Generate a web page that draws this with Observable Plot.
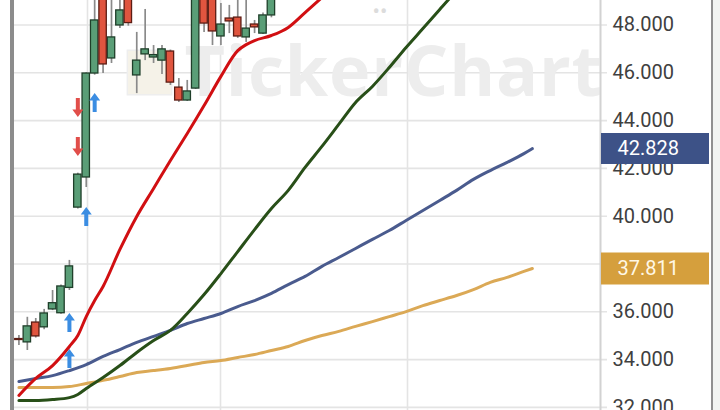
<!DOCTYPE html>
<html><head><meta charset="utf-8">
<script src="https://cdn.jsdelivr.net/npm/d3@7"></script>
<script src="https://cdn.jsdelivr.net/npm/@observablehq/plot@0.6"></script>
<style>
html,body{margin:0;padding:0;background:#fff;}
#chart{width:720px;height:410px;overflow:hidden;}
</style></head><body><div id="chart"></div>
<script>
// ---- candles (bar index 1..31, visible part) ----
const opens  = [34.86,34.72,35.55,35.35,36.10,35.94,37.00,40.36,41.62,45.97,49.60,46.60,47.98,49.30,45.89,46.77,46.64,46.51,46.89,45.38,44.84,45.34,49.50,49.20,47.52,48.27,48.31,47.48,48.02,47.64,48.40];
const highs  = [35.01,35.77,35.72,36.10,36.89,37.12,38.15,41.80,46.00,49.30,49.80,49.50,49.30,49.40,47.69,48.65,47.14,47.14,46.95,45.76,45.68,49.80,49.80,49.40,48.90,48.82,49.10,49.20,48.19,48.50,49.60];
const lows   = [34.59,34.38,34.90,35.25,36.05,35.90,36.89,40.30,41.20,45.90,45.97,46.39,47.85,47.95,45.13,46.51,46.39,45.93,45.47,44.76,44.80,45.30,47.69,47.14,47.14,47.64,47.44,47.27,47.64,47.60,48.30];
const closes = [34.82,35.39,34.97,35.93,36.36,37.06,37.90,41.74,45.97,48.19,46.35,47.48,48.61,48.08,46.51,46.98,46.74,46.98,45.59,44.84,45.22,49.50,48.06,47.73,48.02,48.15,47.52,47.85,47.90,48.40,49.50];

// ---- moving averages ----
const redIdx = [1,3,5,7,8,9,10,11,13,15,17,19,21,23,25,27,28,29,31,33,35,37,39];
const redVal = [32.50,33.21,33.75,34.55,35.01,35.80,36.47,37.06,38.61,39.99,41.16,42.33,43.46,44.63,45.85,46.93,47.18,47.35,47.56,47.90,48.52,49.15,49.80];
const greenIdx = [1,3,5,7,8,9,11,13,15,17,19,21,23,25,27,29,31,33,35,37,39,41,43,45,47,49,51,53,55];
const greenVal = [32.29,32.29,32.33,32.41,32.54,32.79,33.25,33.75,34.30,34.80,35.22,35.93,36.72,37.60,38.52,39.44,40.32,41.08,42.04,42.92,43.84,44.76,45.43,46.22,47.06,47.85,48.65,49.44,50.20];
const slowIdx = [1,3,5,7,9,11,13,15,17,19,21,23,25,27,29,31,33,35,37,39,41,43,45,47,49,51,53,55,57,59,61,62];
const blueVal = [33.08,33.21,33.33,33.54,33.79,34.13,34.42,34.72,34.97,35.22,35.51,35.72,35.93,36.22,36.47,36.77,37.14,37.48,37.90,38.27,38.65,39.03,39.40,39.82,40.24,40.66,41.08,41.54,41.91,42.25,42.62,42.828];
const goldVal = [32.83,32.83,32.83,32.87,33.00,33.13,33.29,33.46,33.54,33.63,33.75,33.88,33.96,34.09,34.21,34.38,34.55,34.80,35.01,35.18,35.39,35.59,35.80,36.01,36.26,36.47,36.68,36.93,37.23,37.44,37.69,37.811];

// ---- signal arrows ----
const arrowIdx = [7,7,9,10,8,8];
const arrowVal = [35.55,34.05,39.99,44.76,44.55,42.92];
const arrowDir = ["up","up","up","up","down","down"];

// ---- axis ----
const yTicks = [32,34,36,38,40,42,44,46,48];
const monthGrid = [9.15,24.95,47.17];
const lastBlue = 42.828, lastGold = 37.811;

const candles = opens.map((o,k)=>({i:k+1, open:o, high:highs[k], low:lows[k], close:closes[k]}));
const up = candles.filter(d=>d.close>=d.open), dn = candles.filter(d=>d.close<d.open);
const mk = (idx, vals) => idx.map((i,k)=>({i, v: vals[k]}));
const arrows = arrowIdx.map((i,k)=>({i, v: arrowVal[k], dir: arrowDir[k]}));

const arrowUp = {draw(ctx){ctx.moveTo(0,-9.5);ctx.lineTo(5.5,-2);ctx.lineTo(2,-2);ctx.lineTo(2,9.5);ctx.lineTo(-2,9.5);ctx.lineTo(-2,-2);ctx.lineTo(-5.5,-2);ctx.closePath();}};
const arrowDown = {draw(ctx){ctx.moveTo(0,9.5);ctx.lineTo(5.5,2);ctx.lineTo(2,2);ctx.lineTo(2,-9.5);ctx.lineTo(-2,-9.5);ctx.lineTo(-2,2);ctx.lineTo(-5.5,2);ctx.closePath();}};
const fmt = d3.format(".3f");

const chart = Plot.plot({
  width: 720, height: 410,
  marginLeft: 10, marginRight: 120, marginTop: 0, marginBottom: 0,
  x: {domain: [0, 70.1], axis: null},
  y: {domain: [31.87, 49.025], axis: null},
  style: {fontFamily: "Roboto, sans-serif", background: "#fff", overflow: "visible"},
  marks: [
    Plot.ruleY(yTicks, {stroke: "#e4e4e4", strokeWidth: 1.6, insetRight: -7}),
    Plot.ruleX(monthGrid, {stroke: "#e4e4e4", strokeWidth: 1.6}),
    Plot.dot([0], {frameAnchor: "top-left", dx: 139, dy: 72, symbol: "square", r: 25, fill: "#f5f2e8", stroke: "#eeeeee"}),
    Plot.text(["TickerChart"], {frameAnchor: "top-left", dx: 174, dy: 73, textAnchor: "start", lineAnchor: "middle", fontSize: 70, fontWeight: "bold", fill: "#ededed", fontFamily: "Open Sans, sans-serif"}),
    Plot.text(["••"], {frameAnchor: "top-left", dx: 362, dy: 11, textAnchor: "start", lineAnchor: "middle", fontSize: 22, fill: "#dcdcdc"}),
    Plot.ruleX(candles, {x: "i", y1: "low", y2: "high", stroke: "#8a8a8a", strokeWidth: 1.7, clip: true}),
    Plot.rect(up, {x1: d=>d.i-0.44, x2: d=>d.i+0.44, y1: "open", y2: "close", fill: "#5a9e77", stroke: "#1f3f2a", strokeWidth: 1.3, clip: true}),
    Plot.rect(dn, {x1: d=>d.i-0.44, x2: d=>d.i+0.44, y1: "open", y2: "close", fill: "#e0553f", stroke: "#5c1d14", strokeWidth: 1.3, clip: true}),
    Plot.line(mk(slowIdx, goldVal), {x: "i", y: "v", stroke: "#dba956", strokeWidth: 3, curve: "monotone-x", clip: true}),
    Plot.line(mk(slowIdx, blueVal), {x: "i", y: "v", stroke: "#4a5b8e", strokeWidth: 3, curve: "monotone-x", clip: true}),
    Plot.line(mk(greenIdx, greenVal), {x: "i", y: "v", stroke: "#284f18", strokeWidth: 3, curve: "monotone-x", clip: true}),
    Plot.line(mk(redIdx, redVal), {x: "i", y: "v", stroke: "#d10f12", strokeWidth: 3, curve: "monotone-x", clip: true}),
    Plot.dot(arrows.filter(d=>d.dir==="up"), {x: "i", y: "v", symbol: arrowUp, fill: "#3b8de2", stroke: "none"}),
    Plot.dot(arrows.filter(d=>d.dir==="down"), {x: "i", y: "v", symbol: arrowDown, fill: "#e14e4a", stroke: "none"}),
    Plot.ruleX([70.1], {stroke: "#d2d2d2", strokeWidth: 2}),
    Plot.text(yTicks, {y: d=>d, frameAnchor: "right", dx: 12, textAnchor: "start", text: d=>fmt(d), fontSize: 20, fill: "#404040"}),
    Plot.ruleY([lastBlue], {stroke: "#3d5287", strokeWidth: 31, insetLeft: 591, insetRight: -109}),
    Plot.text([lastBlue], {y: d=>d, frameAnchor: "right", dx: 17, textAnchor: "start", text: d=>fmt(d), fontSize: 20, fill: "#ffffff"}),
    Plot.ruleY([lastGold], {stroke: "#d59f3d", strokeWidth: 32, insetLeft: 591, insetRight: -109}),
    Plot.text([lastGold], {y: d=>d, frameAnchor: "right", dx: 17, textAnchor: "start", text: d=>fmt(d), fontSize: 20, fill: "#fff8e6"}),
    Plot.ruleX([0], {stroke: "#8c8c8c", strokeWidth: 4, dx: 1.5})
  ]
});
document.getElementById("chart").appendChild(chart);
const svg = d3.select(chart);
svg.selectAll("text").filter(function(){return this.textContent==="TickerChart";}).attr("letter-spacing", 0.8);
svg.append("rect").attr("x", 713).attr("y", 0).attr("width", 7).attr("height", 410).attr("fill", "#f2f4f2");
svg.append("line").attr("x1", 712).attr("x2", 712).attr("y1", 0).attr("y2", 410).attr("stroke", "#909090").attr("stroke-width", 2);
</script></body></html>
